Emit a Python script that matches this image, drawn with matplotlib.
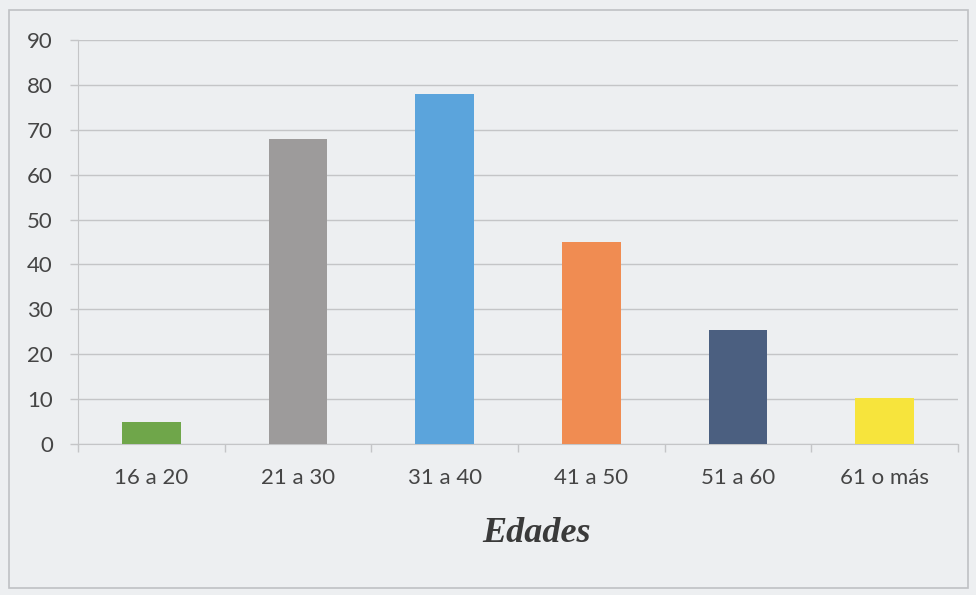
import matplotlib
matplotlib.use("Agg")
import matplotlib.pyplot as plt
import numpy as np

categories = ["16 a 20", "21 a 30", "31 a 40", "41 a 50", "51 a 60", "61 o más"]
values = [5, 68, 78, 45, 25.5, 10.3]
bar_colors = ["#6fa64a", "#9d9b9b", "#5ba4dc", "#f08c52", "#4b5f80", "#f7e43c"]
y_ticks = list(range(0, 91, 10))

bg = "#edeff1"
text_col = "#454545"
grid_col = "#c4c5c7"

fig = plt.figure(figsize=(9.76, 5.95), dpi=100, facecolor=bg)
ax = fig.add_axes([78 / 976, 1 - 444 / 595, 880 / 976, 404 / 595])
ax.set_facecolor(bg)

x = np.arange(len(categories))
ax.bar(x, values, width=0.4, color=bar_colors, zorder=3)

ax.set_xlim(-0.5, len(categories) - 0.5)
ax.set_ylim(0, 90)
ax.set_yticks(y_ticks)
ax.set_yticklabels([str(v) for v in y_ticks], family="Lato")
ax.yaxis.grid(True, color=grid_col, lw=1.0, zorder=0)
ax.tick_params(axis="y", length=6, color=grid_col, width=1.0,
               labelsize=16, labelcolor=text_col, pad=12)

# category labels centred, tick marks between categories
ax.set_xticks(x)
ax.set_xticklabels(categories, fontsize=16, color=text_col, family="Lato")
ax.tick_params(axis="x", length=0, pad=17)
ax.set_xticks(np.arange(-0.5, len(categories), 1.0), minor=True)
ax.tick_params(axis="x", which="minor", length=6, color=grid_col, width=1.0)

for s in ["top", "right"]:
    ax.spines[s].set_visible(False)
ax.spines["left"].set_color(grid_col)
ax.spines["bottom"].set_color(grid_col)

# axis title
ax.text(537 / 976, 1 - 533 / 595, "Edades", transform=fig.transFigure,
        fontsize=26, color="#3a3a3a", family="Liberation Serif",
        style="italic", fontweight="bold", ha="center", va="center")

# outer chart border
fig.add_artist(plt.Rectangle((9 / 976, 1 - 588 / 595), 959 / 976, 578 / 595,
                             transform=fig.transFigure, fill=False,
                             edgecolor="#bfc1c4", lw=1.2))

fig.savefig("out.png", dpi=100, facecolor=bg)
